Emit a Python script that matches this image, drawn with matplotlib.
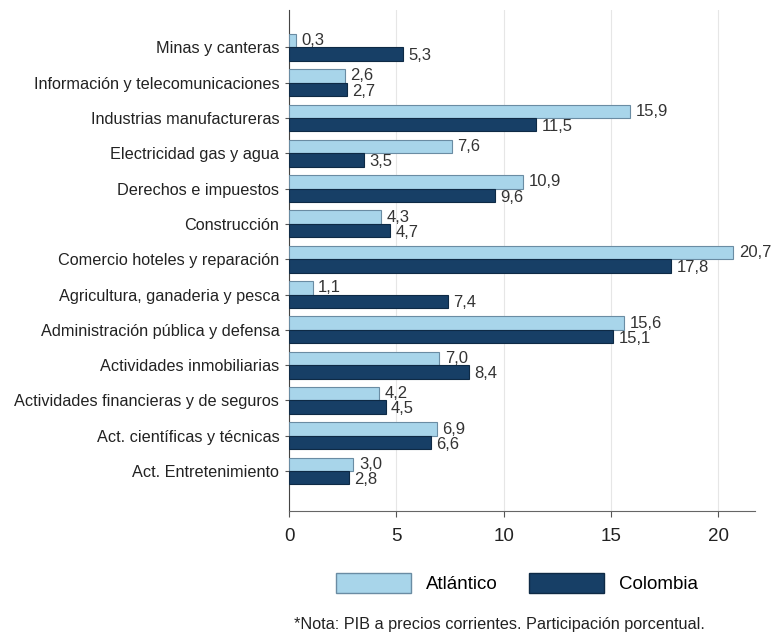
import matplotlib
matplotlib.use("Agg")
import matplotlib.pyplot as plt
from matplotlib.patches import Patch
import numpy as np

plt.rcParams['font.family'] = ['Liberation Sans', 'DejaVu Sans']

categories = [
    "Minas y canteras",
    "Información y telecomunicaciones",
    "Industrias manufactureras",
    "Electricidad gas y agua",
    "Derechos e impuestos",
    "Construcción",
    "Comercio hoteles y reparación",
    "Agricultura, ganaderia y pesca",
    "Administración pública y defensa",
    "Actividades inmobiliarias",
    "Actividades financieras y de seguros",
    "Act. científicas y técnicas",
    "Act. Entretenimiento",
]
atlantico = [0.3, 2.6, 15.9, 7.6, 10.9, 4.3, 20.7, 1.1, 15.6, 7.0, 4.2, 6.9, 3.0]
colombia = [5.3, 2.7, 11.5, 3.5, 9.6, 4.7, 17.8, 7.4, 15.1, 8.4, 4.5, 6.6, 2.8]
series_names = ["Atlántico", "Colombia"]
xticks = [0, 5, 10, 15, 20]

c_light = "#A8D5EA"
c_dark = "#173F66"
e_light = "#6A8CA3"
e_dark = "#0E2A45"

fig = plt.figure(figsize=(7.75, 6.4), dpi=100)
ax = fig.add_axes([0.373, 0.2016, 0.601, 0.7824])

y = np.arange(len(categories))
h = 0.38
ax.barh(y - h / 2, atlantico, height=h, color=c_light, edgecolor=e_light, linewidth=0.8, zorder=3)
ax.barh(y + h / 2, colombia, height=h, color=c_dark, edgecolor=e_dark, linewidth=0.8, zorder=3)

for i, (a, c) in enumerate(zip(atlantico, colombia)):
    ax.text(a + 0.25, i - h / 2, f"{a:.1f}".replace(".", ","), va="center", ha="left",
            fontsize=12, color="#333333", zorder=4)
    ax.text(c + 0.25, i + h / 2 + 0.05, f"{c:.1f}".replace(".", ","), va="center", ha="left",
            fontsize=12, color="#333333", zorder=4)

ax.set_ylim(len(categories) - 1 + 1.13, -1.05)
ax.set_xlim(0, 21.7)
ax.set_yticks(y)
ax.set_yticklabels(categories, fontsize=11.7, color="#222222")
ax.set_xticks(xticks)
ax.set_xticklabels([str(t) for t in xticks], fontsize=13.5, color="#222222")
ax.tick_params(axis="y", length=3, color="#555555", pad=4)
ax.tick_params(axis="x", length=4, color="#555555", pad=8)
ax.grid(axis="x", color="#E6E6E6", linewidth=0.8, zorder=0)
for s in ["top", "right"]:
    ax.spines[s].set_visible(False)
ax.spines["left"].set_color("#444444")
ax.spines["bottom"].set_color("#666666")

handles = [Patch(facecolor=c_light, edgecolor=e_light),
           Patch(facecolor=c_dark, edgecolor=e_dark)]
fig.legend(handles, series_names, loc="center", bbox_to_anchor=(517 / 775, 0.089), ncol=2,
           frameon=False, fontsize=13.5, handlelength=4.0, handleheight=1.25,
           columnspacing=1.7, handletextpad=0.8, borderpad=0.2)

fig.text(499 / 775, 0.024, "*Nota: PIB a precios corrientes. Participación porcentual.",
         ha="center", va="center", fontsize=11.7, color="#222222")

fig.savefig("out.png", dpi=100)
